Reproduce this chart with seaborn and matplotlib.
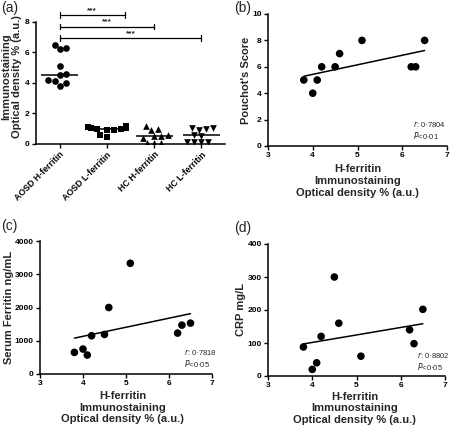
import numpy as np
import pandas as pd
import matplotlib
matplotlib.use("Agg")
import matplotlib.pyplot as plt
import seaborn as sns

sns.set_theme(style="ticks")
plt.rcParams['font.family'] = ['Liberation Sans', 'DejaVu Sans']

# ---- data ----
groups = ["AOSD H-ferritin", "AOSD L-ferritin", "HC H-ferritin", "HC L-ferritin"]
aosd_h = [6.5, 6.3, 6.2, 5.1, 4.6, 4.5, 4.2, 4.1, 4.0, 3.8]
aosd_l = [1.15, 1.1, 1.05, 1.05, 1.0, 1.0, 0.95, 0.9, 0.6, 0.45]
hc_h = [1.2, 1.0, 0.9, 0.6, 0.5, 0.5, 0.4, 0.05, 0.05, 0.05]
hc_l = [1.05, 1.05, 1.0, 0.95, 0.6, 0.55, 0.1, 0.1, 0.1, 0.1]
markers = ["o", "s", "^", "v"]

h_ferritin = [3.8, 4.0, 4.1, 4.2, 4.5, 4.6, 5.1, 6.2, 6.3, 6.5]
pouchot = [5, 4, 5, 6, 6, 7, 8, 6, 6, 8]
serum_ferritin = [650, 750, 570, 1150, 1190, 2000, 3330, 1230, 1470, 1530]
crp = [88, 20, 40, 120, 300, 160, 60, 140, 98, 202]

brackets_end = [1.38, 2.0, 3.0]
bracket_y = [8.45, 7.7, 6.95]

xlabel_txt = "H-ferritin\nImmunostaining\nOptical density % (a.u.)"

fig = plt.figure(figsize=(4.5, 4.32), dpi=100)

def style_axes(ax, fs=6):
    for s in ["top", "right"]:
        ax.spines[s].set_visible(False)
    for s in ["left", "bottom"]:
        ax.spines[s].set_linewidth(1.1)
        ax.spines[s].set_color("black")
    ax.tick_params(direction="out", length=3, width=1, colors="black",
                   labelsize=fs, pad=1.5)
    for lab in ax.get_xticklabels() + ax.get_yticklabels():
        lab.set_fontweight("bold")

# ---- panel (a) ----
axa = fig.add_axes([36/450, 1-144/432, 189/450, 122/432])
all_vals = [aosd_h, aosd_l, hc_h, hc_l]
for i, (g, vals, m) in enumerate(zip(groups, all_vals, markers)):
    df = pd.DataFrame({"group": pd.Categorical([g]*len(vals), categories=groups),
                       "val": vals})
    sns.swarmplot(data=df, x="group", y="val", marker=m, color="black",
                  size=4.8, ax=axa, order=groups, warn_thresh=1)
    med = np.median(vals)
    axa.hlines(med, i-0.39, i+0.39, color="black", lw=1.1, zorder=3)
axa.set_xlim(-0.5, 3.5)
axa.set_ylim(0, 8)
axa.set_yticks([0, 2, 4, 6, 8])
axa.set_xlabel("")
axa.set_ylabel("Immunostaining\nOptical density % (a.u.)", fontsize=8,
               fontweight="bold", linespacing=1.05)
axa.yaxis.set_label_coords(-0.075, 0.55)
style_axes(axa)
plt.setp(axa.get_xticklabels(), rotation=45, ha="right", rotation_mode="anchor",
         fontsize=6.3, fontweight="bold")
for xe, yb in zip(brackets_end, bracket_y):
    axa.plot([0, xe], [yb, yb], color="black", lw=0.9, clip_on=False)
    for xx in (0, xe):
        axa.plot([xx, xx], [yb-0.18, yb+0.18], color="black", lw=0.9, clip_on=False)
    axa.text(xe/2, yb+0.08, "***", ha="center", va="bottom", fontsize=6,
             fontweight="bold", clip_on=False)

# ---- scatter panels ----
def scatter_panel(rect, y, ylim, yticks, ylabel, ylabel_x, annot, annot_pos, xlabel_pos):
    ax = fig.add_axes(rect)
    df = pd.DataFrame({"x": h_ferritin, "y": y})
    sns.regplot(data=df, x="x", y="y", ci=None, ax=ax, color="black",
                scatter_kws={"s": 30, "color": "black", "edgecolor": "none", "alpha": 1},
                line_kws={"lw": 1.1, "color": "black"})
    ax.set_xlim(3, 7)
    ax.set_ylim(*ylim)
    ax.set_xticks([3, 4, 5, 6, 7])
    ax.set_yticks(yticks)
    ax.set_ylabel(ylabel, fontsize=8, fontweight="bold")
    ax.yaxis.set_label_coords(ylabel_x, 0.5)
    ax.set_xlabel(xlabel_txt, fontsize=8, fontweight="bold", linespacing=1.2)
    ax.xaxis.set_label_coords(*xlabel_pos)
    style_axes(ax)
    ax.text(annot_pos[0], annot_pos[1], annot, transform=ax.transAxes,
            fontsize=5.5, va="bottom", ha="left", linespacing=1.1)
    return ax

scatter_panel([268/450, 1-146/432, 179/450, 132/432], pouchot, (0, 10),
              [0, 2, 4, 6, 8, 10], "Pouchot's Score", -0.095,
              "$r$: 0·7804\n$P$<0·01", (0.81, 0.04), (0.5, -0.14))
scatter_panel([40/450, 1-374/432, 172/450, 133/432], serum_ferritin, (0, 4000),
              [0, 1000, 2000, 3000, 4000], "Serum Ferritin ng/mL", -0.15,
              "$r$: 0·7818\n$P$<0·05", (0.835, 0.04), (0.48, -0.13))
scatter_panel([268/450, 1-376/432, 177/450, 132/432], crp, (0, 400),
              [0, 100, 200, 300, 400], "CRP mg/L", -0.125,
              "$r$: 0·8802\n$P$<0·05", (0.84, 0.03), (0.49, -0.12))

# ---- panel labels ----
for lab, x, y in [("(a)", 1, 1), ("(b)", 234, 1), ("(c)", 1, 219), ("(d)", 234, 221)]:
    fig.text(x/450, 1-y/432, lab, fontsize=10, va="top", ha="left")

fig.savefig("out.png", dpi=100)
